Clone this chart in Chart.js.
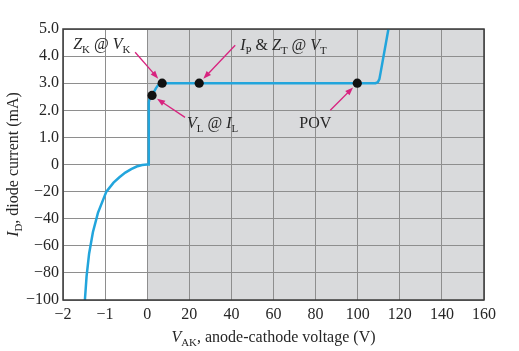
<!DOCTYPE html>
<html>
<head>
<meta charset="utf-8">
<script src="https://cdn.jsdelivr.net/npm/chart.js@4.4.1/dist/chart.umd.min.js"></script>
<style>
  html, body { margin: 0; padding: 0; background: #fff; }
  #wrap { width: 519px; height: 351px; }
</style>
</head>
<body>
<div id="wrap"><canvas id="diodeChart" width="519" height="351"></canvas></div>
<script>
// tick labels (axis is piecewise: -2..0 V in 1 V steps, then 20 V steps; mA below 0 in 20 mA steps, above 0 in 1 mA steps)
const xTickLabels = ['−2', '−1', '0', '20', '40', '60', '80', '100', '120', '140', '160'];
const yTickLabels = ['−100', '−80', '−60', '−40', '−20', '0', '1.0', '2.0', '3.0', '4.0', '5.0'];

// diode curve, V (volts) and I (mA)
const curveV = [-1.50, -1.48, -1.44, -1.38, -1.29, -1.17, -0.97, -0.80, -0.66, -0.52, -0.38, -0.25, -0.12, 0,
                0.7, 0.75, 1.1, 1.7, 2.3, 3.2, 4.2, 5.2, 6.2, 7.2,
                108.5, 109.6, 110.3, 110.9, 114.6, 115.5];
const curveI = [-105, -100, -82.6, -65.8, -50, -35.7, -20, -13.4, -9.4, -6.0, -3.4, -1.5, -0.4, -0.05,
                0, 2.3, 2.42, 2.5, 2.56, 2.68, 2.82, 2.93, 2.99, 3.0,
                3.0, 3.04, 3.15, 3.4, 5.0, 5.4];

// marked points: Z_K, I_P, V_L, POV
const markerNames = ['ZK', 'IP', 'VL', 'POV'];
const markerV = [7.1, 24.7, 2.3, 99.8];
const markerI = [3.0, 3.0, 2.55, 3.0];

// map real values onto the evenly spaced axis positions
function toAxisX(v) { return v <= 0 ? v + 2 : 2 + v / 20; }
function toAxisY(i) { return i >= 0 ? 5 + i : 5 + i / 20; }

const curveData = curveV.map((v, k) => ({ x: toAxisX(v), y: toAxisY(curveI[k]) }));
const markerData = markerV.map((v, k) => ({ x: toAxisX(v), y: toAxisY(markerI[k]) }));

const SERIF = '"Liberation Serif", "DejaVu Serif", serif';
const TEXT = '#262626';
const PINK = '#d8237f';

// text with italic letters and subscripts
function richWidth(ctx, parts, size) {
    let w = 0;
    parts.forEach(p => {
        ctx.font = (p.it ? 'italic ' : '') + (p.sub ? size * 0.68 : size) + 'px ' + SERIF;
        w += ctx.measureText(p.t).width;
    });
    return w;
}
function drawRich(ctx, parts, x, y, size) {
    ctx.textBaseline = 'alphabetic';
    ctx.textAlign = 'left';
    ctx.fillStyle = TEXT;
    parts.forEach(p => {
        ctx.font = (p.it ? 'italic ' : '') + (p.sub ? size * 0.68 : size) + 'px ' + SERIF;
        ctx.fillText(p.t, x, p.sub ? y + size * 0.25 : y);
        x += ctx.measureText(p.t).width;
    });
}

// labels with arrows, offsets in px from the marker they point at
const notes = [
    { m: 0, tx: -89, ty: -34, ax: -27, ay: -31,
      parts: [{ t: 'Z', it: true }, { t: 'K', sub: true }, { t: ' @ ' }, { t: 'V', it: true }, { t: 'K', sub: true }] },
    { m: 1, tx: 41, ty: -33, ax: 36, ay: -38,
      parts: [{ t: 'I', it: true }, { t: 'P', sub: true }, { t: ' & ' }, { t: 'Z', it: true }, { t: 'T', sub: true },
              { t: ' @ ' }, { t: 'V', it: true }, { t: 'T', sub: true }] },
    { m: 2, tx: 35, ty: 33, ax: 33, ay: 22,
      parts: [{ t: 'V', it: true }, { t: 'L', sub: true }, { t: ' @ ' }, { t: 'I', it: true }, { t: 'L', sub: true }] },
    { m: 3, tx: -58, ty: 45, ax: -27, ay: 27,
      parts: [{ t: 'POV' }] }
];

const backgroundPlugin = {
    id: 'background',
    beforeDraw(chart) {
        const ctx = chart.ctx;
        const a = chart.chartArea;
        const x0 = chart.scales.x.getPixelForValue(toAxisX(0));
        ctx.save();
        ctx.fillStyle = '#ffffff';
        ctx.fillRect(0, 0, chart.width, chart.height);
        ctx.fillStyle = '#d9dadc';
        ctx.fillRect(x0, a.top, a.right - x0, a.bottom - a.top);
        ctx.restore();
    }
};

const notesPlugin = {
    id: 'notes',
    afterDraw(chart) {
        const ctx = chart.ctx;
        const a = chart.chartArea;
        const xs = chart.scales.x, ys = chart.scales.y;
        ctx.save();
        // frame
        ctx.strokeStyle = '#3a3a3a';
        ctx.lineWidth = 1.5;
        ctx.strokeRect(a.left, a.top, a.right - a.left, a.bottom - a.top);

        notes.forEach(n => {
            const px = xs.getPixelForValue(markerData[n.m].x);
            const py = ys.getPixelForValue(markerData[n.m].y);
            const sx = px + n.ax, sy = py + n.ay;
            const len = Math.hypot(px - sx, py - sy);
            const ux = (px - sx) / len, uy = (py - sy) / len;
            const tx = px - ux * 6, ty = py - uy * 6;
            ctx.strokeStyle = PINK;
            ctx.fillStyle = PINK;
            ctx.lineWidth = 1.3;
            ctx.beginPath();
            ctx.moveTo(sx, sy);
            ctx.lineTo(tx - ux * 5, ty - uy * 5);
            ctx.stroke();
            ctx.beginPath();
            ctx.moveTo(tx, ty);
            ctx.lineTo(tx - ux * 8 - uy * 3, ty - uy * 8 + ux * 3);
            ctx.lineTo(tx - ux * 8 + uy * 3, ty - uy * 8 - ux * 3);
            ctx.closePath();
            ctx.fill();
            drawRich(ctx, n.parts, px + n.tx, py + n.ty, 16);
        });

        // axis titles
        const xParts = [{ t: 'V', it: true }, { t: 'AK', sub: true }, { t: ', anode-cathode voltage (V)' }];
        const xw = richWidth(ctx, xParts, 16);
        drawRich(ctx, xParts, (a.left + a.right) / 2 - xw / 2, 342, 16);

        const yParts = [{ t: 'I', it: true }, { t: 'D', sub: true }, { t: ', diode current (mA)' }];
        const yw = richWidth(ctx, yParts, 16);
        ctx.translate(18, (a.top + a.bottom) / 2);
        ctx.rotate(-Math.PI / 2);
        drawRich(ctx, yParts, -yw / 2, 0, 16);
        ctx.restore();
    }
};

document.addEventListener('DOMContentLoaded', function() {
    const ctx = document.getElementById('diodeChart').getContext('2d');

    new Chart(ctx, {
        type: 'scatter',
        data: {
            datasets: [{
                label: 'I-V curve',
                data: curveData,
                showLine: true,
                borderColor: '#22a5dc',
                borderWidth: 2.5,
                pointRadius: 0,
                tension: 0,
                order: 2
            }, {
                label: 'points',
                data: markerData,
                showLine: false,
                backgroundColor: '#111111',
                borderWidth: 0,
                pointRadius: 4.6,
                order: 1
            }]
        },
        options: {
            responsive: false,
            animation: false,
            layout: { padding: { top: 29, right: 35, left: 0, bottom: 0 } },
            plugins: {
                legend: { display: false },
                tooltip: { enabled: false }
            },
            scales: {
                x: {
                    type: 'linear',
                    min: 0,
                    max: 10,
                    afterFit: s => { s.height = 51; },
                    grid: { color: '#8e8e8e', lineWidth: 1, drawTicks: false },
                    border: { display: false },
                    ticks: {
                        stepSize: 1,
                        autoSkip: false,
                        maxRotation: 0,
                        padding: 5,
                        color: TEXT,
                        font: { family: SERIF, size: 16 },
                        callback: v => xTickLabels[v]
                    }
                },
                y: {
                    type: 'linear',
                    min: 0,
                    max: 10,
                    afterFit: s => { s.width = 63; },
                    grid: { color: '#8e8e8e', lineWidth: 1, drawTicks: false },
                    border: { display: false },
                    ticks: {
                        stepSize: 1,
                        autoSkip: false,
                        padding: 4,
                        color: TEXT,
                        font: { family: SERIF, size: 16 },
                        callback: v => yTickLabels[v]
                    }
                }
            }
        },
        plugins: [backgroundPlugin, notesPlugin]
    });
});
</script>
</body>
</html>
